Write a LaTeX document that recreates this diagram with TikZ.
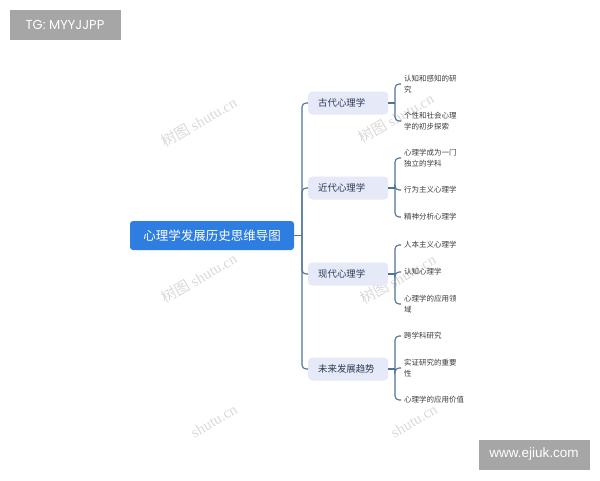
\documentclass[tikz,border=0pt]{standalone}
\usepackage{fontspec}
\setmainfont{Noto Sans CJK SC}
\newfontfamily\tagfont{Poppins}
\newfontfamily\urlfont{Liberation Sans}
\newfontfamily\markfont{Liberation Serif}
\definecolor{rootblue}{HTML}{2E7DE1}
\definecolor{branchfill}{HTML}{E5E9F8}
\definecolor{linkcol}{HTML}{4F7299}
\definecolor{tagfill}{HTML}{A6A6A6}
\definecolor{branchtext}{HTML}{2B3A55}
\definecolor{leaftext}{HTML}{3A3A3A}
\definecolor{markcol}{HTML}{D9D9D9}
\begin{document}
\begin{tikzpicture}[x=1pt, y=-1pt,
  tagbox/.style = {fill = tagfill, text = white, minimum width = 111pt, minimum height = 30pt, inner sep = 0pt},
  rootbox/.style = {fill = rootblue, text = white, rounded corners = 3pt, minimum width = 164pt, minimum height = 29pt, font = \fontsize{12.5}{14}\selectfont},
  branch/.style = {fill = branchfill, text = branchtext, rounded corners = 4pt, anchor = west, minimum height = 23pt, text width = 60pt, inner xsep = 10pt, align = left, font = \fontsize{9.4}{11}\selectfont},
  leaf/.style = {text = leaftext, anchor = west, inner sep = 3pt, align = left, font = \fontsize{7.5}{10.5}\selectfont},
  link/.style = {draw = linkcol, line width = 1.1pt},
  watermark/.style = {text = markcol, rotate = 30, font = \markfont\fontsize{15}{17}\selectfont}]
\useasboundingbox (0,0) rectangle (600,480);
% watermarks
\node[watermark] (w1) at (199,122) {\rmfamily 树图 \markfont shutu.cn};
\node[watermark] (w2) at (396,118) {\rmfamily 树图 \markfont shutu.cn};
\node[watermark] (w3) at (199,278) {\rmfamily 树图 \markfont shutu.cn};
\node[watermark] (w4) at (398,279) {\rmfamily 树图 \markfont shutu.cn};
\node[watermark] (w5) at (214,421) {shutu.cn};
\node[watermark] (w6) at (414,421) {shutu.cn};
% corner tags
\node[tagbox, font = \tagfont\fontsize{13}{15}\selectfont] (tag) at (65,25) {TG: MYYJJPP};
\node[tagbox, font = \urlfont\fontsize{13.5}{15}\selectfont] (url) at (534,454.5) {www.ejiuk.com};
% root and spine
\node[rootbox] (root) at (212,235.5) {心理学发展历史思维导图};
\coordinate (hub) at (302,235.5);
\draw[link] (root.east) -- (hub);
\foreach \n/\y/\t in {b1/103/古代心理学, b2/188/近代心理学, b3/274/现代心理学, b4/369/未来发展趋势}{
  \node[branch] (\n) at (308,\y) {\t};
  \coordinate (k\n) at (395,\y);
  \draw[link, rounded corners = 4pt] (hub) |- (\n.west);
  \draw[link] (\n.east) -- (k\n);
}
% leaves
\foreach \p/\n/\y/\t in {b1/l11/84/{认知和感知的研\\究}, b1/l12/121/{个性和社会心理\\学的初步探索},
    b2/l21/158/{心理学成为一门\\独立的学科}, b2/l22/190/行为主义心理学, b2/l23/217/精神分析心理学,
    b3/l31/245/人本主义心理学, b3/l32/272/认知心理学, b3/l33/304/{心理学的应用领\\域},
    b4/l41/336/跨学科研究, b4/l42/368/{实证研究的重要\\性}, b4/l43/400/心理学的应用价值}{
  \node[leaf] (\n) at (401,\y) {\t};
  \draw[link, rounded corners = 4pt] (k\p) |- (\n.west);
}
\end{tikzpicture}
\end{document}
